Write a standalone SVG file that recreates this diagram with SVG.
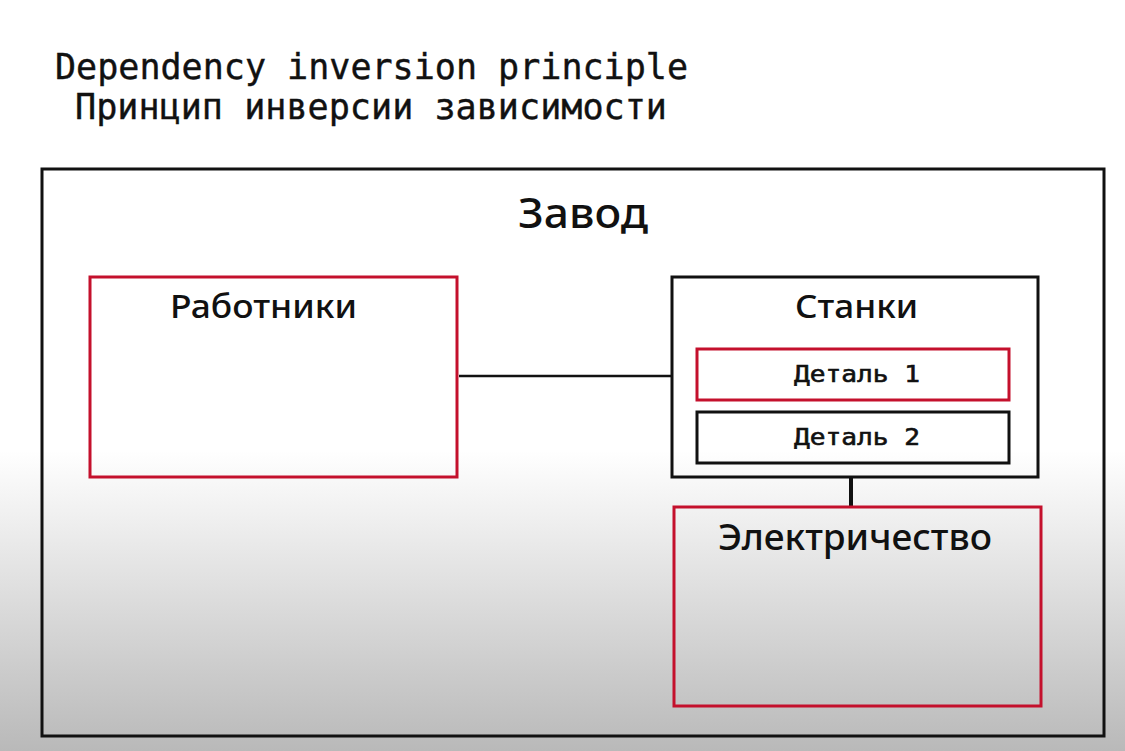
<svg xmlns="http://www.w3.org/2000/svg" width="1125" height="751" viewBox="0 0 1125 751">
<defs>
<linearGradient id="bg" x1="0" y1="0" x2="0" y2="1">
<stop offset="0" stop-color="#ffffff"/>
<stop offset="0.6" stop-color="#ffffff"/>
<stop offset="1" stop-color="#b9b9b9"/>
</linearGradient>
</defs>
<style>
.title{font-family:"DejaVu Sans Mono","Liberation Mono",monospace;font-size:36px;fill:#111;stroke:#111;stroke-width:0.4}
.lbl{font-family:"Noto Sans","Open Sans","DejaVu Sans",sans-serif;fill:#111;font-weight:500}
.mono{font-family:"DejaVu Sans Mono","Liberation Mono",monospace;fill:#111;stroke:#111;stroke-width:0.6}
.red{fill:none;stroke:#c4102c;stroke-width:3}
.blk{fill:none;stroke:#111;stroke-width:3}
.conn{stroke:#111;fill:none}
</style>
<rect x="0" y="0" width="1125" height="751" fill="url(#bg)"/>
<text class="title" x="55" y="79" textLength="633" lengthAdjust="spacingAndGlyphs">Dependency inversion principle</text>
<text class="title" x="75" y="119" textLength="592" lengthAdjust="spacingAndGlyphs">Принцип инверсии зависимости</text>
<g id="zavod">
<rect class="blk" x="42" y="169" width="1062" height="567"/>
<text class="lbl" x="518" y="228" font-size="41" textLength="130" lengthAdjust="spacingAndGlyphs">Завод</text>
</g>
<g id="connectors">
<line class="conn" x1="459" y1="376" x2="672" y2="376" stroke-width="2.5"/>
<line class="conn" x1="851" y1="478" x2="851" y2="506" stroke-width="4"/>
</g>
<g id="rabotniki">
<rect class="red" x="90" y="277" width="367" height="200"/>
<text class="lbl" x="170" y="318" font-size="33" textLength="187" lengthAdjust="spacingAndGlyphs">Работники</text>
</g>
<g id="stanki">
<rect class="blk" x="672" y="277" width="366" height="200"/>
<text class="lbl" x="795" y="318" font-size="33" textLength="123" lengthAdjust="spacingAndGlyphs">Станки</text>
</g>
<g id="detal1">
<rect class="red" x="697" y="349" width="312" height="51"/>
<text class="mono" x="794" y="382" font-size="23" textLength="126" lengthAdjust="spacingAndGlyphs">Деталь 1</text>
</g>
<g id="detal2">
<rect class="blk" x="697" y="412" width="312" height="51"/>
<text class="mono" x="794" y="445" font-size="23" textLength="126" lengthAdjust="spacingAndGlyphs">Деталь 2</text>
</g>
<g id="elektrichestvo">
<rect class="red" x="674" y="507" width="367" height="199"/>
<text class="lbl" x="718" y="550" font-size="36" textLength="274" lengthAdjust="spacingAndGlyphs">Электричество</text>
</g>
</svg>
